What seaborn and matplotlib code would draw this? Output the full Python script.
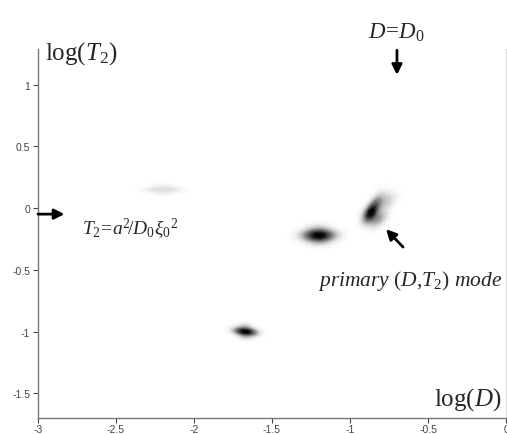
import matplotlib
matplotlib.use("Agg")
import matplotlib.pyplot as plt
from matplotlib.colors import LinearSegmentedColormap
import seaborn as sns
import numpy as np

# peak points of the (D, T2) distribution, grouped by mode
peak_logD = [-2.27, -2.20, -2.13, -2.20, -2.20,
             -1.27, -1.20, -1.13, -1.20, -1.20,
             -1.72, -1.67, -1.62, -1.67, -1.67,
             -0.808, -0.756, -0.712, -0.840, -0.776,
             -0.859, -0.891, -0.872, -0.827, -0.788]
peak_logT2 = [0.150, 0.150, 0.150, 0.120, 0.180,
              -0.220, -0.220, -0.220, -0.170, -0.270,
              -0.994, -1.000, -1.006, -0.960, -1.040,
              0.089, 0.073, 0.065, 0.032, 0.024,
              -0.024, -0.040, -0.073, -0.097, -0.073]
peak_weight = [1, 1.2, 1, 0.6, 0.6,
               1, 1.5, 1, 0.7, 0.7,
               1, 1.5, 1, 0.6, 0.6,
               1, 0.8, 0.3, 1.5, 0.6,
               2, 1, 2, 1.5, 0.8]
peak_group = ["faint"] * 5 + ["b"] * 5 + ["c"] * 5 + ["primary"] * 10

xticks = [-3, -2.5, -2, -1.5, -1, -0.5, 0]
yticks = [-1.5, -1, -0.5, 0, 0.5, 1]

sns.set_style("ticks")
plt.rcParams["font.family"] = ["Liberation Sans", "DejaVu Sans"]
plt.rcParams["mathtext.fontset"] = "custom"
plt.rcParams["mathtext.rm"] = "Liberation Serif"
plt.rcParams["mathtext.it"] = "Liberation Serif:italic"

fig = plt.figure(figsize=(5.07, 4.35), dpi=100)
ax = fig.add_axes([38 / 507, 16 / 435, 468 / 507, 369 / 435])

faint_cmap = LinearSegmentedColormap.from_list("faint", ["#ffffff", "#dddddd"])
cmaps = {"faint": faint_cmap, "b": "Greys", "c": "Greys", "primary": "Greys"}
bw = {"faint": 1.1, "b": 1.4, "c": 1.2, "primary": 1.05}

x = np.array(peak_logD)
y = np.array(peak_logT2)
w = np.array(peak_weight)
g = np.array(peak_group)
for name in ["faint", "b", "c", "primary"]:
    m = g == name
    sns.kdeplot(x=x[m], y=y[m], weights=w[m], fill=True, levels=30,
                thresh=0.01, bw_adjust=bw[name], cmap=cmaps[name], ax=ax)

ax.set_xlim(-3, 0)
ax.set_ylim(-1.70, 1.29)
ax.set_xticks(xticks)
ax.set_xticklabels([f"{t:g}" for t in xticks])
ax.set_yticks(yticks)
ax.set_yticklabels([f"{t:g}" for t in yticks])
ax.set_xlabel("")
ax.set_ylabel("")
ax.tick_params(labelsize=7.5, colors="#444444", length=3.5, width=0.8, pad=2)
ax.tick_params(axis="x", pad=1)
for s in ["left", "bottom"]:
    ax.spines[s].set_color("#777777")
    ax.spines[s].set_linewidth(1.0)
ax.spines["top"].set_visible(False)
ax.spines["right"].set_color("#dddddd")
ax.spines["right"].set_linewidth(0.8)

ax.text(-2.955, 1.265, r"$\mathrm{log}(T_2)$", fontsize=18, ha="left", va="center")
ax.text(-0.026, -1.54, r"$\mathrm{log}(D)$", fontsize=18, ha="right", va="center")
ax.text(-0.705, 1.435, r"$D\!=\!D_0$", fontsize=16.5, ha="center", va="center",
        clip_on=False)
ax.text(-2.718, -0.155, r"$T_2\!=\!a^2\!/D_0\xi_0{}^2$", fontsize=14,
        ha="left", va="center")
ax.text(-0.026, -0.58, r"$primary\ (D{,}T_2)\ mode$", fontsize=15.5,
        ha="right", va="center")

arrow = dict(arrowstyle="-|>", lw=2, color="black", mutation_scale=15,
             shrinkA=0, shrinkB=0)
ax.annotate("", xy=(-0.699, 1.08), xytext=(-0.699, 1.28), arrowprops=arrow,
            annotation_clip=False)
ax.annotate("", xy=(-2.83, -0.048), xytext=(-3.0, -0.048), arrowprops=arrow,
            annotation_clip=False)
ax.annotate("", xy=(-0.769, -0.17), xytext=(-0.66, -0.315), arrowprops=arrow)

fig.savefig("out.png", dpi=100)
